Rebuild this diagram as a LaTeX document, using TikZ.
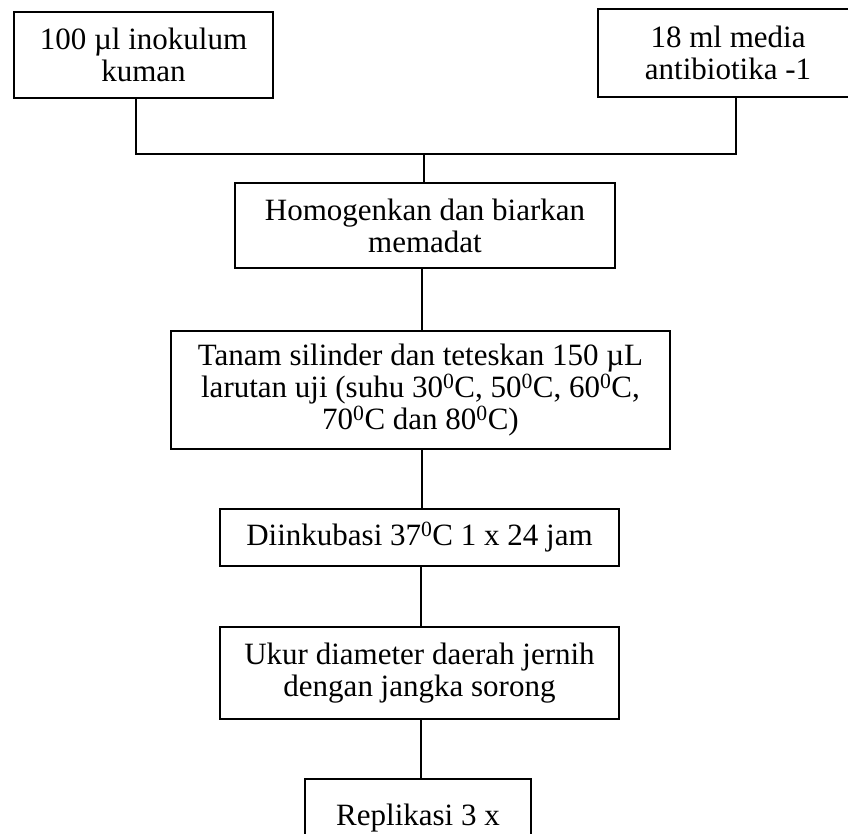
\documentclass[tikz,border=0pt]{standalone}
\usepackage{fontspec}
\setmainfont{Liberation Serif}
\begin{document}
\begin{tikzpicture}[x=1pt,y=-1pt,
  box/.style={draw, line width=1.3pt, inner sep=0pt, align=center,
    font=\fontsize{31}{32}\selectfont},
  link/.style={line width=1.3pt}]
\useasboundingbox (0,0) rectangle (848,834);
\fill[white] (0,0) rectangle (848,834);
\node[box, minimum width=259pt, minimum height=86pt] (b1) at (143.5,55) {100 µl inokulum\\kuman};
\node[box, minimum width=260pt, minimum height=88pt] (b2) at (728,53) {18 ml media\\antibiotika -1};
\node[box, minimum width=380pt, minimum height=85pt] (hom) at (425,225.5) {Homogenkan dan biarkan\\memadat};
\node[box, minimum width=499pt, minimum height=118pt] (tan) at (420.5,390) {Tanam silinder dan teteskan 150 µL\\larutan uji (suhu 30\textsuperscript{0}C, 50\textsuperscript{0}C, 60\textsuperscript{0}C,\\70\textsuperscript{0}C dan 80\textsuperscript{0}C)};
\node[box, minimum width=399pt, minimum height=57pt] (ink) at (419.5,537.5) {Diinkubasi 37\textsuperscript{0}C 1 x 24 jam};
\node[box, minimum width=399pt, minimum height=92pt] (uku) at (419.5,673) {Ukur diameter daerah jernih\\dengan jangka sorong};
\node[box, minimum width=226pt, minimum height=78pt] (rep) at (418,818) {Replikasi 3 x};
\coordinate (j) at (424,154);
\draw[link] ([xshift=-7.5pt]b1.south) |- (j) -| ([xshift=8pt]b2.south);
\draw[link] (j) -- (hom.north -| j);
\draw[link] ([xshift=-3pt]hom.south) -- ([xshift=-3pt]hom.south |- tan.north);
\draw[link] ([xshift=1.5pt]tan.south) -- ([xshift=1.5pt]tan.south |- ink.north);
\draw[link] ([xshift=1.5pt]ink.south) -- ([xshift=1.5pt]ink.south |- uku.north);
\draw[link] ([xshift=1.5pt]uku.south) -- ([xshift=1.5pt]uku.south |- rep.north);
\end{tikzpicture}
\end{document}
